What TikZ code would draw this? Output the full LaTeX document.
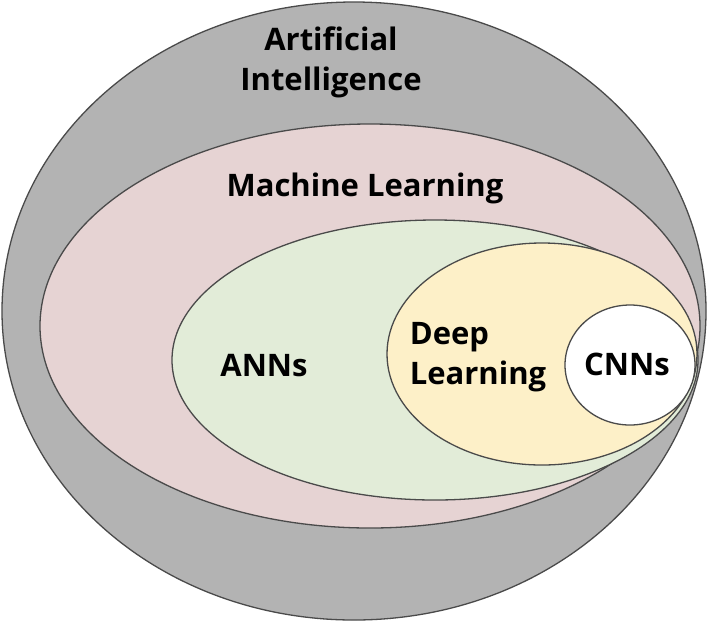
\documentclass[tikz,border=0pt]{standalone}
\usepackage{fontspec}
\setmainfont{Open Sans}
\usepackage{xcolor}
\definecolor{aigray}{HTML}{B3B3B3}
\definecolor{mlpink}{HTML}{E6D3D3}
\definecolor{anngreen}{HTML}{E2ECD8}
\definecolor{dlyellow}{HTML}{FDF0C8}
\definecolor{edgegray}{HTML}{4A4A4A}
\tikzset{
  set/.style={draw=edgegray, line width=1.3pt},
  lbl/.style={font=\fontsize{31}{40}\selectfont\bfseries, align=center, inner sep=0pt},
}
\begin{document}
\begin{tikzpicture}[x=1pt,y=-1pt]
\useasboundingbox (0,0) rectangle (708,622);
\draw[set, fill=aigray] (354,311) ellipse (352 and 309);
\draw[set, fill=mlpink] (370,326) ellipse (330 and 202);
\draw[set, fill=anngreen] (435,360) ellipse (263 and 140);
\draw[set, fill=dlyellow] (542,354) ellipse (155 and 111);
\draw[set, fill=white] (630,365) ellipse (65 and 60);

\node[lbl] (ai) at (331,62) {Artificial\\Intelligence};
\node[lbl] (ml) at (365,188) {Machine Learning};
\node[lbl] (ann) at (264,366) {ANNs};
\node[lbl, align=left] (dl) at (478,357) {Deep\\Learning};
\node[lbl] (cnn) at (627,364) {CNNs};
\end{tikzpicture}
\end{document}
